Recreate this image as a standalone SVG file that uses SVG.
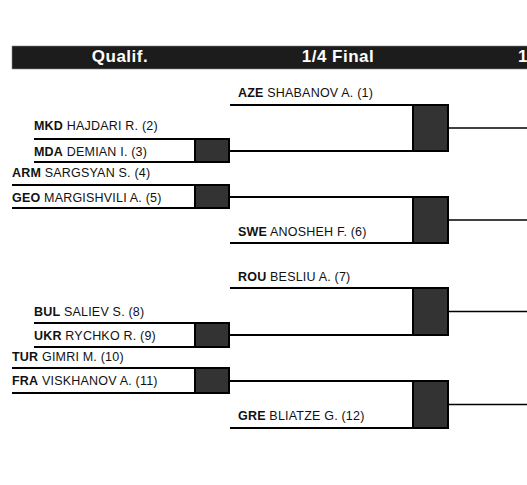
<svg xmlns="http://www.w3.org/2000/svg" width="527" height="485" viewBox="0 0 527 485">
<style>
.bg{fill:#ffffff}
.hdr{fill:#1c1c1c;stroke:#888;stroke-width:0.6}
.ht{font-family:"Liberation Sans",Arial,Helvetica,sans-serif;font-weight:bold;font-size:17px;fill:#ffffff;letter-spacing:0.5px}
.ln{stroke:#000;stroke-width:2;fill:none}
.out{stroke:#000;stroke-width:1.6;fill:none}
.box{fill:#333333;stroke:#000;stroke-width:2}
.t{font-family:"Liberation Sans",Arial,Helvetica,sans-serif;font-size:12.5px;fill:#111;letter-spacing:0.2px}
.t tspan{font-weight:bold}
</style>
<rect class="bg" x="0" y="0" width="527" height="485"/>
<g id="header">
  <rect class="hdr" x="12" y="46" width="516" height="23"/>
  <text class="ht" x="120" y="62" text-anchor="middle">Qualif.</text>
  <text class="ht" x="338" y="62" text-anchor="middle">1/4 Final</text>
  <text class="ht" x="518" y="62">1</text>
</g>

<g id="q1">
  <line class="ln" x1="34" y1="139" x2="196" y2="139"/>
  <line class="ln" x1="34" y1="162" x2="196" y2="162"/>
  <rect class="box" x="195" y="139" width="34" height="23"/>
  <text class="t" x="34" y="129.5"><tspan>MKD</tspan> HAJDARI R. (2)</text>
  <text class="t" x="34" y="155.5"><tspan>MDA</tspan> DEMIAN I. (3)</text>
</g>
<g id="q2">
  <line class="ln" x1="12" y1="185" x2="196" y2="185"/>
  <line class="ln" x1="12" y1="208" x2="196" y2="208"/>
  <rect class="box" x="195" y="185" width="34" height="23"/>
  <text class="t" x="12" y="176.5"><tspan>ARM</tspan> SARGSYAN S. (4)</text>
  <text class="t" x="12" y="201.5"><tspan>GEO</tspan> MARGISHVILI A. (5)</text>
</g>
<g id="qf1">
  <line class="ln" x1="230" y1="105" x2="414" y2="105"/>
  <rect class="box" x="413" y="105" width="35" height="46"/>
  <text class="t" x="238" y="97"><tspan>AZE</tspan> SHABANOV A. (1)</text>
</g>
<g id="qf2">
  <line class="ln" x1="230" y1="243" x2="414" y2="243"/>
  <rect class="box" x="413" y="197" width="35" height="46"/>
  <text class="t" x="238" y="236"><tspan>SWE</tspan> ANOSHEH F. (6)</text>
</g>

<g id="q3">
  <line class="ln" x1="34" y1="323" x2="196" y2="323"/>
  <line class="ln" x1="34" y1="347" x2="196" y2="347"/>
  <rect class="box" x="195" y="323" width="34" height="24"/>
  <text class="t" x="34" y="316"><tspan>BUL</tspan> SALIEV S. (8)</text>
  <text class="t" x="34" y="340"><tspan>UKR</tspan> RYCHKO R. (9)</text>
</g>
<g id="q4">
  <line class="ln" x1="12" y1="368" x2="196" y2="368"/>
  <line class="ln" x1="12" y1="393" x2="196" y2="393"/>
  <rect class="box" x="195" y="368" width="34" height="25"/>
  <text class="t" x="12" y="361"><tspan>TUR</tspan> GIMRI M. (10)</text>
  <text class="t" x="12" y="385"><tspan>FRA</tspan> VISKHANOV A. (11)</text>
</g>
<g id="qf3">
  <line class="ln" x1="230" y1="288" x2="414" y2="288"/>
  <rect class="box" x="413" y="288" width="35" height="47"/>
  <text class="t" x="238" y="280.5"><tspan>ROU</tspan> BESLIU A. (7)</text>
</g>
<g id="qf4">
  <line class="ln" x1="230" y1="428" x2="414" y2="428"/>
  <rect class="box" x="413" y="381" width="35" height="47"/>
  <text class="t" x="238" y="420"><tspan>GRE</tspan> BLIATZE G. (12)</text>
</g>

<g id="connectors">
  <line class="ln" x1="229" y1="151" x2="414" y2="151"/>
  <line class="ln" x1="229" y1="197" x2="414" y2="197"/>
  <line class="ln" x1="229" y1="335" x2="414" y2="335"/>
  <line class="ln" x1="229" y1="381" x2="414" y2="381"/>
  <line class="out" x1="448" y1="128" x2="527" y2="128"/>
  <line class="out" x1="448" y1="220" x2="527" y2="220"/>
  <line class="out" x1="448" y1="311.5" x2="527" y2="311.5"/>
  <line class="out" x1="448" y1="404.5" x2="527" y2="404.5"/>
</g>
</svg>
